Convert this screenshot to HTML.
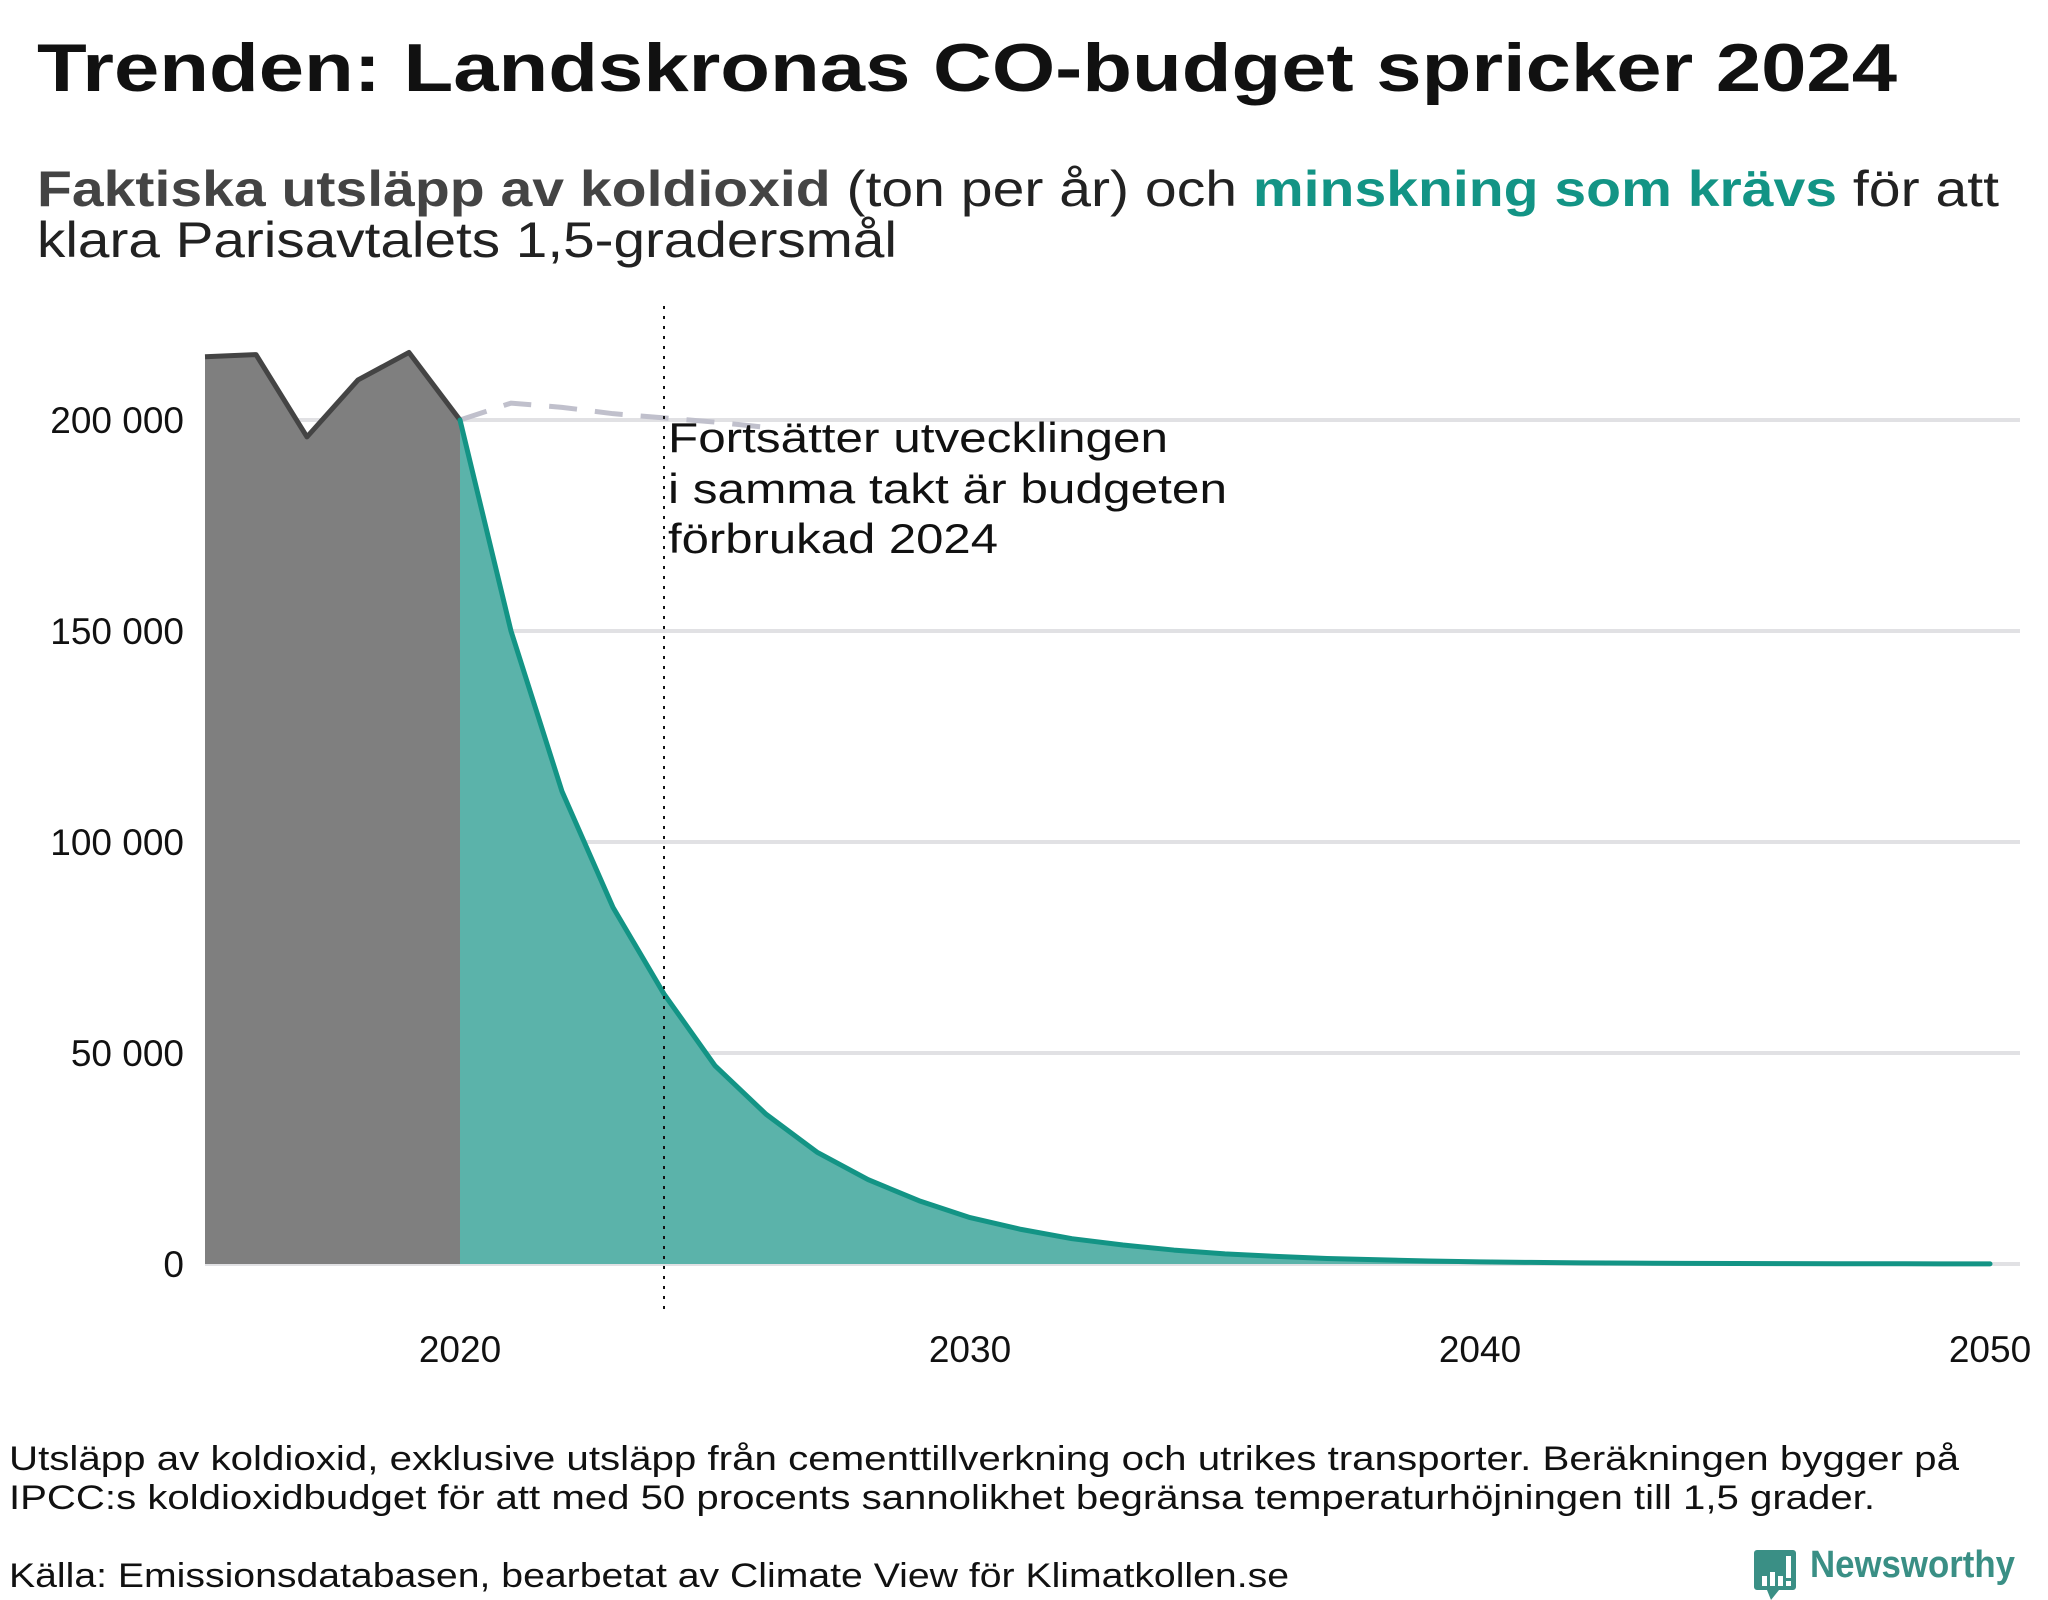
<!DOCTYPE html>
<html><head><meta charset="utf-8"><style>
html,body{margin:0;padding:0;background:#fff;}
svg{display:block;font-family:"Liberation Sans",sans-serif;}
</style></head><body>
<svg id="chart" width="2048" height="1600" viewBox="0 0 2048 1600" xmlns="http://www.w3.org/2000/svg">
<text x="37" y="91" font-size="68" font-weight="bold" fill="#111" textLength="1860" lengthAdjust="spacingAndGlyphs">Trenden: Landskronas CO-budget spricker 2024</text>
<text x="37" y="206" font-size="50" fill="#222" textLength="1962" lengthAdjust="spacingAndGlyphs"><tspan font-weight="bold" fill="#444">Faktiska utsläpp av koldioxid</tspan> (ton per år) och <tspan font-weight="bold" fill="#139485">minskning som krävs</tspan> för att</text>
<text x="37" y="257" font-size="50" fill="#222" textLength="860" lengthAdjust="spacingAndGlyphs">klara Parisavtalets 1,5-gradersmål</text>
<g id="grid"></g>
<g id="marks"></g>
<g id="yaxis"></g>
<g id="xaxis"></g>
<g font-size="42" fill="#111">
<text x="668" y="452" textLength="500" lengthAdjust="spacingAndGlyphs">Fortsätter utvecklingen</text>
<text x="668" y="503" textLength="559" lengthAdjust="spacingAndGlyphs">i samma takt är budgeten</text>
<text x="668" y="553" textLength="330" lengthAdjust="spacingAndGlyphs">förbrukad 2024</text>
</g>
<g font-size="34" fill="#111">
<text x="9" y="1470" textLength="1950" lengthAdjust="spacingAndGlyphs">Utsläpp av koldioxid, exklusive utsläpp från cementtillverkning och utrikes transporter. Beräkningen bygger på</text>
<text x="9" y="1509" textLength="1866" lengthAdjust="spacingAndGlyphs">IPCC:s koldioxidbudget för att med 50 procents sannolikhet begränsa temperaturhöjningen till 1,5 grader.</text>
<text x="9" y="1587" textLength="1280" lengthAdjust="spacingAndGlyphs">Källa: Emissionsdatabasen, bearbetat av Climate View för Klimatkollen.se</text>
</g>
<g>
<path d="M1757 1550 h36 a3 3 0 0 1 3 3 v34 a3 3 0 0 1 -3 3 h-14 l-8 10 l-4 -10 h-10 a3 3 0 0 1 -3 -3 v-34 a3 3 0 0 1 3 -3z" fill="#3a8f85"/>
<rect x="1762" y="1576" width="5" height="10" fill="#fff"/><rect x="1770" y="1572" width="5" height="14" fill="#fff"/><rect x="1778" y="1576" width="5" height="10" fill="#fff"/><rect x="1786" y="1556" width="5" height="22" fill="#fff"/><rect x="1786" y="1581" width="5" height="5" fill="#fff"/>
<text x="1810" y="1577" font-size="38" font-weight="bold" fill="#3a8f85" textLength="205" lengthAdjust="spacingAndGlyphs">Newsworthy</text>
</g>
</svg>
<script>
const histYears=[2015,2016,2017,2018,2019,2020];
const histValues=[215000,215500,196000,209500,216000,200000];
const trendYears=[2020,2021,2022,2023,2024,2025,2026.2];
const trendValues=[200000,204000,203000,201500,200500,199500,198000];
const pathYears=[2020,2021,2022,2023,2024,2025,2026,2027,2028,2029,2030,2031,2032,2033,2034,2035,2036,2037,2038,2039,2040,2041,2042,2043,2044,2045,2046,2047,2048,2049,2050];
const pathValues=[200000,150000,112000,84500,64000,47000,35500,26500,20000,15000,11000,8200,6000,4500,3300,2400,1800,1300,1000,700,500,380,280,210,160,120,90,70,50,40,30];
const yTicks=[0,50000,100000,150000,200000];
const yTickLabels=["0","50 000","100 000","150 000","200 000"];
const xTicks=[2020,2030,2040,2050];
const xTickLabels=["2020","2030","2040","2050"];
const budgetYear=2024;
const NS="http://www.w3.org/2000/svg";
const x=v=>460+(v-2020)*51.0;
const y=v=>1264-v/200000*844;
function mk(tag,parent,attrs){const e=document.createElementNS(NS,tag);for(const k in attrs)e.setAttribute(k,attrs[k]);parent.appendChild(e);return e;}
const grid=document.getElementById('grid'),marks=document.getElementById('marks'),ya=document.getElementById('yaxis'),xa=document.getElementById('xaxis');
yTicks.forEach((t,i)=>{
 const l=mk('line',grid,{x1:205,x2:2020,y1:y(t),y2:y(t),stroke:'#e1e1e4','stroke-width':4});
 
 
 const tx=mk('text',ya,{x:184,y:y(t)+13,'font-size':37,'text-anchor':'end',fill:'#111'});
 
 
 tx.textContent=yTickLabels[i];
});
xTicks.forEach((t,i)=>{
 const tx=mk('text',xa,{x:x(t),y:1362,'font-size':37,'text-anchor':'middle',fill:'#111'});
 
 
 tx.textContent=xTickLabels[i];
});
function pts(xs,vs){return xs.map((d,i)=>x(d)+','+y(vs[i])).join(' ');}
const ha=mk('polygon',marks,{points:x(histYears[0])+','+y(0)+' '+pts(histYears,histValues)+' '+x(histYears[histYears.length-1])+','+y(0),fill:'#7f7f7f'});


const pa=mk('polygon',marks,{points:x(pathYears[0])+','+y(0)+' '+pts(pathYears,pathValues)+' '+x(pathYears[pathYears.length-1])+','+y(0),fill:'#5bb3aa'});


const tl=mk('polyline',marks,{points:pts(trendYears,trendValues),fill:'none',stroke:'#c0c0cc','stroke-width':5,'stroke-dasharray':'28 18'});


const hl=mk('polyline',marks,{points:pts(histYears,histValues),fill:'none',stroke:'#444','stroke-width':5,'stroke-linejoin':'round'});


const pl=mk('polyline',marks,{points:pts(pathYears,pathValues),fill:'none',stroke:'#139485','stroke-width':5,'stroke-linejoin':'round','stroke-linecap':'round'});


const bl=mk('line',marks,{x1:x(budgetYear),x2:x(budgetYear),y1:306,y2:1310,stroke:'#111','stroke-width':2,'stroke-dasharray':'3 7'});


</script>
</body></html>
